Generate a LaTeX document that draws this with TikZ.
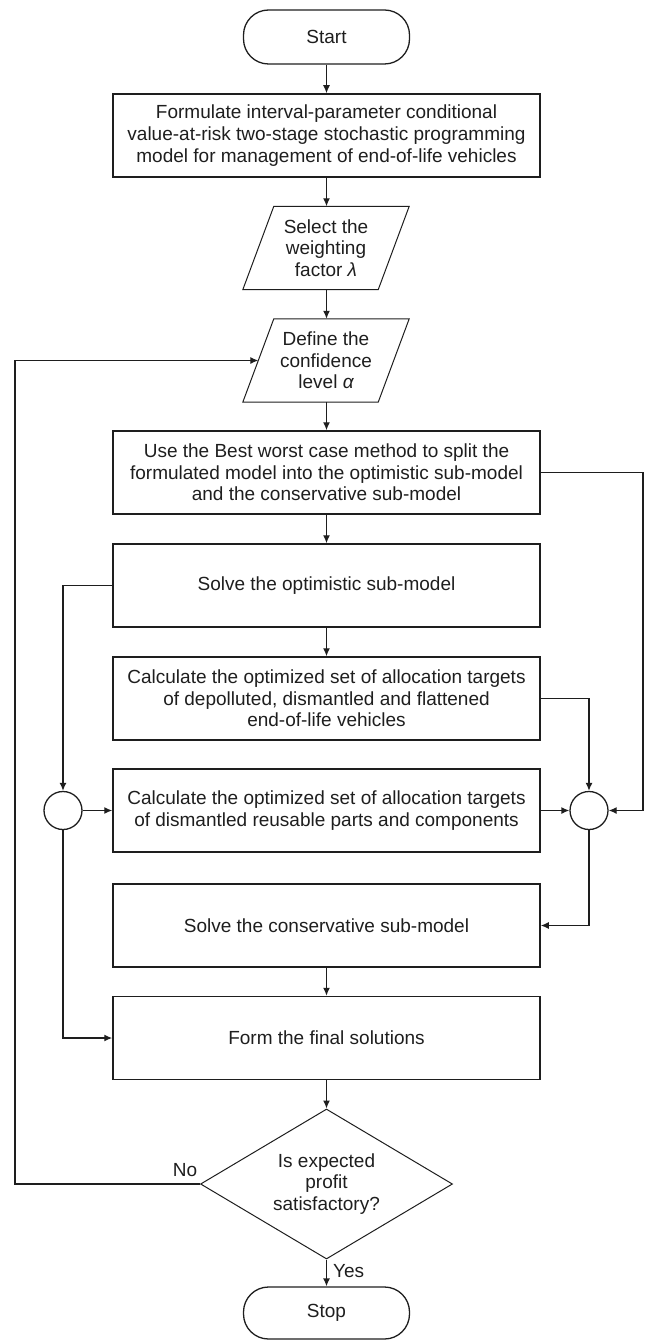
\documentclass[tikz,border=0pt]{standalone}
\usepackage{fontspec}
\setmainfont{Liberation Sans}
\usetikzlibrary{arrows.meta,shapes.geometric}
\definecolor{ink}{RGB}{30,30,30}
\begin{document}
\begin{tikzpicture}[x=1pt,y=-1pt,
  every node/.style={font=\fontsize{19}{21.7}\selectfont, text=ink},
  box/.style={draw=ink, line width=1.5pt, rectangle, minimum width=427pt, minimum height=83pt, inner sep=0pt, align=center},
  term/.style={draw=ink, line width=1.3pt, rectangle, rounded corners=25pt, minimum width=166pt, minimum height=54pt, inner sep=0pt},
  paranode/.style={minimum width=135pt, minimum height=83pt, inner sep=0pt, align=center},
  paraline/.style={draw=ink, line width=1pt},
  junction/.style={draw=ink, line width=1.3pt, circle, minimum size=38pt, inner sep=0pt},
  decision/.style={draw=ink, line width=1pt, diamond, minimum width=252pt, minimum height=150pt, inner sep=0pt, aspect=1.68, align=center},
  conn/.style={draw=ink, line width=1.3pt, -{Latex[length=8pt,width=7pt]}},
  fb/.style={draw=ink, line width=1.1pt, -{Latex[length=8pt,width=7pt]}},
  lbl/.style={inner sep=0pt}
]
\useasboundingbox (0,0) rectangle (647,1340);

\node[term] (start) at (326.5,37) {Start};
\node[box] (b1) at (326.5,135.5) {Formulate interval-parameter conditional\\value-at-risk two-stage stochastic programming\\model for management of end-of-life vehicles};
\node[paranode] (p1) at (326,248) {Select the\\weighting\\factor {\itshape λ}};
\node[paranode] (p2) at (326,360.5) {Define the\\confidence\\level {\itshape α}};
\node[box] (bw) at (326.5,472.5) {Use the Best worst case method to split the\\formulated model into the optimistic sub-model\\and the conservative sub-model};
\node[box] (so) at (326.5,585.5) {Solve the optimistic sub-model};
\node[box] (c1) at (326.5,698.5) {Calculate the optimized set of allocation targets\\of depolluted, dismantled and flattened\\end-of-life vehicles};
\node[box] (c2) at (326.5,810.5) {Calculate the optimized set of allocation targets\\of dismantled reusable parts and components};
\node[box] (sc) at (326.5,925.5) {Solve the conservative sub-model};
\node[box] (fm) at (326.5,1038) {Form the final solutions};
\node[decision] (d) at (326.5,1184) {Is expected\\profit\\satisfactory?};
\node[term, minimum height=52pt] (stop) at (326.5,1313) {Stop};
\node[junction] (lc) at (63,810.5) {};
\node[junction] (rc) at (589,810.5) {};

% parallelograms
\draw[paraline] ([xshift=15.5pt]p1.north west) -- ([xshift=15.5pt]p1.north east) -- ([xshift=-15.5pt]p1.south east) -- ([xshift=-15.5pt]p1.south west) -- cycle;
\draw[paraline] ([xshift=15.5pt]p2.north west) -- ([xshift=15.5pt]p2.north east) -- ([xshift=-15.5pt]p2.south east) -- ([xshift=-15.5pt]p2.south west) -- cycle;

% main flow
\draw[conn] (start) -- (b1);
\draw[conn] (b1) -- (p1.north -| b1);
\draw[conn] (p1.south -| b1) -- (p2.north -| b1);
\draw[conn] (p2.south -| b1) -- (bw);
\draw[conn] (bw) -- (so);
\draw[conn] (so) -- (c1);
\draw[conn] (sc) -- (fm);
\draw[conn] (fm) -- (d);
\draw[conn] (d) -- (stop) node[lbl, pos=0.42, anchor=west, xshift=6pt] (yes) {Yes};

% left side
\draw[conn] (so.west) -| (lc.north);
\draw[conn] (lc.east) -- (c2.west);
\draw[conn] (lc.south) |- (fm.west);

% right side
\coordinate (rx) at (643,472.5);
\draw[conn] (bw.east) -- (rx) |- (rc.east);
\draw[conn] (c1.east) -| (rc.north);
\draw[conn] (c2.east) -- (rc.west);
\draw[conn] (rc.south) |- (sc.east);

% feedback
\coordinate (fbx) at (15,1184);
\draw[fb] (d.west) -- (fbx) |- (p2.west);
\node[lbl] (no) at (185,1170) {No};
\end{tikzpicture}
\end{document}
